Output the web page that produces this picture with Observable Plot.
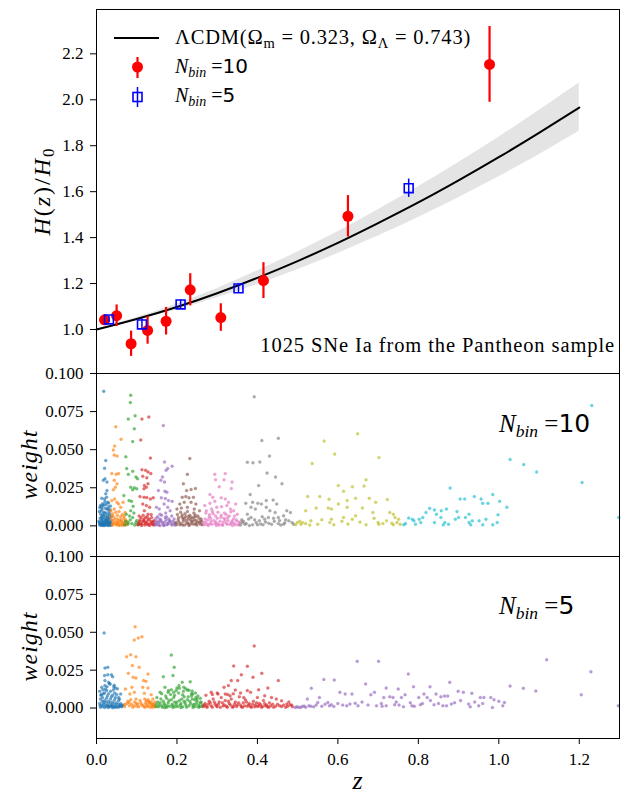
<!DOCTYPE html>
<html><head><meta charset="utf-8">
<script src="https://cdn.jsdelivr.net/npm/d3@7"></script>
<script src="https://cdn.jsdelivr.net/npm/@observablehq/plot@0.6"></script>
<style>
body{margin:0;background:#fff;}
#wrap{position:relative;width:628px;height:795px;overflow:hidden;background:#fff;}
#wrap svg.plot{display:block;overflow:visible;}
#ov{position:absolute;left:0;top:0;pointer-events:none;overflow:visible;}
</style></head><body><div id="wrap"></div>
<script>
// ---------- data ----------
const zTicks = [0, 0.2, 0.4, 0.6, 0.8, 1.0, 1.2];
const hTicks = [1.0, 1.2, 1.4, 1.6, 1.8, 2.0, 2.2];
const wTicks = [0, 0.025, 0.05, 0.075, 0.1];

// LCDM curve and its grey band
const curveZ  = [0, 0.1, 0.2, 0.3, 0.4, 0.5, 0.6, 0.7, 0.8, 0.9, 1.0, 1.1, 1.2];
const curveH  = [1.000, 1.046, 1.098, 1.158, 1.225, 1.298, 1.377, 1.463, 1.553, 1.649, 1.750, 1.856, 1.966];
const bandHi  = [1.000, 1.052, 1.111, 1.179, 1.255, 1.337, 1.425, 1.521, 1.621, 1.727, 1.837, 1.953, 2.073];
const bandLo  = [1.000, 1.040, 1.086, 1.138, 1.196, 1.260, 1.331, 1.407, 1.488, 1.574, 1.665, 1.761, 1.863];

// H(z)/H0 reconstructions
const bin10Z   = [0.020, 0.050, 0.086, 0.127, 0.173, 0.233, 0.309, 0.415, 0.625, 0.977];
const bin10H   = [1.042, 1.060, 0.938, 0.996, 1.036, 1.173, 1.052, 1.213, 1.493, 2.154];
const bin10Err = [0.020, 0.047, 0.055, 0.060, 0.060, 0.070, 0.060, 0.078, 0.090, 0.165];
const bin5Z    = [0.031, 0.113, 0.209, 0.353, 0.776];
const bin5H    = [1.044, 1.022, 1.109, 1.179, 1.615];
const bin5Err  = [0.015, 0.025, 0.020, 0.020, 0.040];

const binColors = ["#1f77b4","#ff7f0e","#2ca02c","#d62728","#9467bd","#8c564b","#e377c2","#7f7f7f","#bcbd22","#17becf"];

// weights per SN, one string per bin: "z*1000,weight*10000"
const weights10 = [
"18,883 23,429 20,378 21,310 17,299 26,288 26,232 23,210 13,181 20,177 25,188 28,155 8,120 12,100 16,130 22,115 30,125 34,105 10,80 14,70 19,90 24,85 28,75 33,80 37,60 9,50 13,40 17,55 21,45 26,50 31,40 36,35 7,20 11,15 15,25 18,10 23,20 27,12 32,18 35,8 8,5 12,3 16,8 20,2 25,5 29,3 33,4 38,10 6,30 22,65 27,30 14,110 19,140 31,95 10,135 24,140 29,110 7,95 35,130 12,60 18,70 27,60 32,55 9,25 14,35 20,30 25,35 30,22 35,20 11,8 17,2 22,8 28,18 34,12 15,145 21,160 30,150 13,12 19,22 24,28 29,8 34,25 9,12 16,18 21,12 26,22 31,12 36,5 14,50 23,38 28,45 33,65 18,85 26,110 12,125",
"48,650 61,569 45,524 42,498 44,465 51,458 38,343 49,338 55,343 44,299 51,277 42,237 47,254 38,166 45,177 51,155 55,144 60,122 66,155 71,88 36,100 40,80 44,110 48,90 52,70 56,95 60,60 64,75 68,50 72,40 38,40 42,20 46,50 50,30 54,15 58,35 62,20 66,10 70,25 74,8 76,30 40,5 48,8 56,3 64,4 36,60 39,12 43,35 47,18 51,8 55,25 59,5 63,30 67,15 71,5 75,18 41,65 53,45 61,40 69,65",
"85,858 84,810 96,723 79,701 94,637 90,553 73,453 75,376 90,358 79,338 98,321 102,310 85,254 94,250 100,243 90,237 68,199 81,166 87,161 91,128 85,100 74,77 79,22 98,22 103,7 90,55 72,30 78,10 84,40 88,15 95,5 100,35 105,12 70,8 82,65 93,85",
"130,715 113,701 110,564 134,445 113,369 122,365 128,354 115,325 125,316 135,343 119,265 124,254 118,243 128,277 108,192 118,188 125,186 134,177 141,184 115,144 124,133 132,122 119,100 128,77 122,55 111,55 137,55 105,20 110,10 115,30 120,5 125,25 130,12 135,30 140,8 108,40 118,45 128,40 138,20 143,35 112,3 122,15 132,3 142,12 106,65 116,70 126,60 136,75 103,8 107,28 113,15 117,35 121,25 127,8 131,45 136,15 141,28 144,5",
"166,659 169,420 188,392 177,376 173,365 164,321 160,299 169,288 154,232 170,228 175,221 161,184 171,179 179,166 188,161 168,144 149,122 156,111 177,122 183,100 158,77 171,55 182,33 154,22 146,10 150,30 155,5 160,40 165,15 170,25 175,8 180,45 185,12 190,30 195,5 152,60 162,70 172,85 187,65 158,2 168,3 178,20 192,15 148,50 147,20 151,8 157,28 163,25 167,5 173,40 177,12 183,28 188,5 193,45 196,20 157,45 174,60",
"232,442 226,338 216,277 235,239 246,246 224,232 213,188 222,192 230,184 241,188 218,155 235,155 247,144 207,144 200,111 211,117 226,122 243,111 256,100 198,20 203,40 207,8 212,60 216,30 220,80 224,15 228,45 232,70 236,25 240,55 244,10 248,35 252,65 256,20 260,45 263,8 201,75 209,90 218,50 226,95 234,40 242,85 250,5 258,30 214,5 230,3 246,60 238,12 222,62 199,8 205,25 210,15 215,45 219,5 223,35 227,20 231,10 235,55 239,30 243,40 247,15 251,25 255,50 259,10 262,30 204,55 213,72 229,62 245,72",
"294,338 296,303 320,343 317,303 337,288 305,257 335,246 282,206 289,188 310,184 320,177 294,161 282,148 328,155 346,144 269,133 273,100 286,111 299,122 311,126 324,133 333,111 341,100 350,77 266,20 270,45 275,10 280,60 285,30 290,80 295,15 300,50 305,5 310,70 315,25 320,40 325,10 330,65 335,20 340,45 345,8 350,30 355,15 272,85 288,95 302,90 318,85 334,92 278,3 298,3 314,5 338,3 284,50 326,55 268,8 272,25 277,40 282,15 287,10 292,35 297,25 302,12 307,30 312,8 317,50 322,20 327,35 332,10 337,30 342,18 347,40 352,5 357,25 281,75 296,65 309,55 322,75 343,65",
"392,847 411,560 452,575 430,458 375,418 389,414 406,420 424,347 445,321 461,277 403,265 382,206 371,148 388,155 401,148 410,144 422,166 439,170 448,144 384,122 395,111 422,122 431,100 427,55 418,44 444,88 452,55 465,66 473,100 482,88 478,33 465,11 397,22 405,33 384,55 363,22 369,11 375,77 388,7 414,7 452,15 486,22 358,5 365,30 372,15 380,3 393,40 400,8 408,12 420,25 435,10 442,30 458,5 470,40 490,10 361,40 378,45 412,60 428,18 440,50 455,35 468,20",
"649,604 566,557 592,471 702,449 536,409 670,303 601,265 614,228 636,257 665,261 525,192 555,192 578,175 623,166 644,181 678,181 723,173 520,100 546,117 576,117 584,111 601,144 623,122 661,117 694,155 687,88 729,88 738,77 499,22 508,11 512,22 520,15 533,33 550,11 580,22 584,44 614,55 636,44 644,66 700,22 702,11 721,33 734,18 747,22 751,44 738,7 742,55 495,8 505,30 530,5 560,40 590,8 610,30 625,12 655,25 670,8 690,50 712,15 755,10",
"1231,790 1028,436 1062,403 1094,354 1207,285 1298,55 879,248 904,177 915,177 939,192 960,148 985,206 1002,161 1020,122 956,177 973,148 828,115 840,104 857,100 870,111 845,77 856,55 896,95 900,55 926,77 917,55 776,51 785,44 789,33 802,44 811,55 819,88 806,22 793,11 764,7 768,15 840,22 866,22 862,7 926,22 930,7 934,33 960,7 985,7 996,22 998,73 968,44 951,33 892,44 875,11"
];
const weights5 = [
"19,496 21,264 28,269 20,214 28,220 37,220 21,181 30,170 40,207 13,137 21,148 34,159 43,141 47,132 55,70 60,92 8,110 12,90 16,120 20,100 25,115 30,95 35,110 40,85 45,100 50,90 10,60 15,70 20,50 25,65 30,45 35,60 40,40 45,55 50,35 55,50 60,30 8,30 13,20 18,35 23,15 28,25 33,10 38,22 43,8 48,18 53,5 58,12 63,8 10,5 20,3 30,4 40,2 66,20 26,140 32,160 44,150 52,128 9,15 14,45 19,25 24,40 29,15 34,35 39,12 44,30 49,8 54,25 59,20 64,15 11,85 17,95 27,80 37,75 47,70 57,60 16,10 26,8 36,15 46,5 56,8 22,125 42,120",
"96,537 94,449 104,463 113,471 75,339 85,352 98,339 89,280 106,269 79,229 128,225 91,203 98,198 117,181 123,176 72,126 88,137 115,137 128,132 83,93 94,104 119,97 136,88 98,59 81,37 102,26 124,48 132,37 141,26 70,10 76,30 82,15 90,5 95,40 100,12 108,50 112,20 118,8 122,35 126,15 130,45 134,5 138,25 142,12 145,40 120,60 140,60 85,55 71,25 78,45 87,25 93,15 99,30 105,8 110,35 116,20 121,5 125,25 129,10 133,30 137,15 140,5 143,22 146,8 128,55 136,40",
"186,350 193,269 190,214 166,207 233,174 213,170 205,148 200,132 217,137 170,137 179,115 158,104 192,104 226,119 239,93 247,70 148,10 152,40 156,20 160,60 164,5 168,30 172,80 176,15 180,50 184,90 188,25 192,70 196,8 200,40 204,100 208,20 212,60 216,110 220,35 224,5 228,75 232,45 236,95 240,15 244,55 248,30 252,80 256,10 260,40 263,20 150,70 162,95 178,105 198,115 214,88 230,118 246,100 258,65 170,3 190,3 210,3 240,3 254,5 186,120 206,130 222,128 238,112 149,25 154,8 158,35 162,15 166,45 170,20 174,5 178,35 182,12 186,55 190,15 194,40 198,25 202,10 206,50 210,30 214,8 218,45 222,20 226,55 230,15 234,30 238,60 242,25 246,10 250,45 254,20 258,35 262,10 174,65 194,85 218,75 236,80 250,60",
"392,410 341,278 375,275 360,220 389,203 411,229 335,181 351,181 452,181 317,137 328,148 345,119 375,115 403,121 426,132 285,104 302,93 320,93 332,81 366,70 383,104 400,70 418,81 435,70 447,59 460,48 473,26 481,22 266,10 270,30 275,5 280,45 285,15 290,60 295,25 300,8 305,40 310,70 315,15 320,50 325,5 330,30 335,60 340,10 345,40 350,20 355,75 360,8 365,35 370,55 375,12 380,30 385,5 390,45 395,20 400,10 405,30 410,5 415,50 420,15 425,8 430,35 440,5 450,25 460,10 470,5 478,40 487,8 272,85 288,90 300,100 326,90 340,95 358,100 268,20 273,12 278,25 283,35 288,5 293,40 298,15 303,25 308,5 313,35 318,20 323,12 328,45 333,20 338,5 343,25 348,10 353,35 358,20 363,5 368,15 373,40 378,20 383,10 388,25 393,8 398,35 403,15 408,22 413,10 418,30 423,20 428,5 433,15 438,25 445,12 455,15 465,20 475,12 485,20",
"648,308 701,308 565,189 591,185 775,225 534,130 1119,319 1229,240 1028,145 1061,130 1092,112 1205,88 1297,15 669,159 720,132 750,126 788,141 829,141 878,170 605,104 618,93 635,93 682,88 691,104 714,70 729,75 737,70 758,70 767,88 801,70 814,93 822,70 844,93 856,75 865,79 873,79 899,110 912,104 933,97 954,70 963,70 980,70 988,55 1014,37 524,59 550,37 554,70 575,37 579,15 584,22 622,15 630,26 643,31 696,15 720,15 741,22 763,9 784,15 805,22 839,22 861,15 882,26 925,26 929,9 950,15 984,4 498,9 507,4 516,13 533,11 494,4 502,6 511,10 520,5 528,15 540,8 546,20 560,12 568,25 590,10 600,30 612,20 650,15 660,40 675,20 708,30 710,12 745,40 752,20 780,35 790,12 810,30 830,50 850,30 870,15 890,35 905,50 940,40 960,30 1000,45 1010,15"
];

// ---------- build ----------
const parsePts = (s, bin) => s.trim().split(/\s+/).map(t => {
  const [a, b] = t.split(",").map(Number);
  return {z: a / 1000, w: b / 10000, bin};
});
const pts10 = weights10.flatMap((s, i) => parsePts(s, i));
const pts5 = weights5.flatMap((s, i) => parsePts(s, i));
const curve = curveZ.map((z, i) => ({z, h: curveH[i], lo: bandLo[i], hi: bandHi[i]}));
const p10 = bin10Z.map((z, i) => ({z, h: bin10H[i], e: bin10Err[i]}));
const p5 = bin5Z.map((z, i) => ({z, h: bin5H[i], e: bin5Err[i]}));

const xDomain = [0, 1.3];
const common = {
  width: 628, marginLeft: 96, marginRight: 9,
  style: {fontFamily: "'Liberation Serif', serif", fontSize: "17px", color: "black", background: "white", overflow: "visible"}
};
const yAxisOpts = {tickSize: 6, tickPadding: 7, label: null};

const topPlot = Plot.plot({
  ...common, height: 373, marginTop: 9, marginBottom: 0,
  x: {domain: xDomain, axis: null},
  y: {domain: [0.8085, 2.393], ticks: hTicks, tickFormat: d3.format(".1f"), ...yAxisOpts},
  marks: [
    Plot.areaY(curve, {x: "z", y1: "lo", y2: "hi", fill: "#e4e4e4", curve: "natural"}),
    Plot.line(curve, {x: "z", y: "h", stroke: "black", strokeWidth: 2, curve: "natural"}),
    Plot.ruleX(p10, {x: "z", y1: d => d.h - d.e, y2: d => d.h + d.e, stroke: "red", strokeWidth: 2.2}),
    Plot.dot(p10, {x: "z", y: "h", r: 5.5, fill: "red"}),
    Plot.ruleX(p5, {x: "z", y1: d => d.h - d.e, y2: d => d.h + d.e, stroke: "blue", strokeWidth: 1.5}),
    Plot.dot(p5, {x: "z", y: "h", symbol: "square", r: 5, stroke: "blue", strokeWidth: 1.6, fill: "none"}),
    Plot.frame({stroke: "black"})
  ]
});

function weightPlot(pts, h, mb, showX) {
  return Plot.plot({
    ...common, height: h, marginTop: 0, marginBottom: mb,
    x: showX ? {domain: xDomain, ticks: zTicks, tickFormat: d3.format(".1f"), tickSize: 6, tickPadding: 8, label: null}
             : {domain: xDomain, axis: null},
    y: {domain: [-0.0201, 0.1], ticks: wTicks, tickFormat: d3.format(".3f"), ...yAxisOpts},
    color: {type: "identity"},
    marks: [
      Plot.dot(pts, {x: "z", y: "w", r: 1.5, fill: d => binColors[d.bin], fillOpacity: 0.65,
                     stroke: d => binColors[d.bin], strokeOpacity: 0.3, strokeWidth: 0.6}),
      Plot.frame({stroke: "black"})
    ]
  });
}
const midPlot = weightPlot(pts10, 183, 0, false);
const botPlot = weightPlot(pts5, 239, 57, true);

const wrap = document.getElementById("wrap");
wrap.append(topPlot, midPlot, botPlot);

// ---------- text / legend overlay ----------
const nbin = (x, y, fs, n) =>
  `<text x="${x}" y="${y}" font-size="${fs}"><tspan font-style="italic">N</tspan><tspan font-style="italic" font-size="${fs*0.7}" dy="${fs*0.2}">bin</tspan><tspan dy="${-fs*0.2}"> =</tspan><tspan font-family="'DejaVu Sans', sans-serif">${n}</tspan></text>`;
const ov = `
<svg id="ov" width="628" height="795" xmlns="http://www.w3.org/2000/svg" font-family="'Liberation Serif', serif" fill="black">
  <line x1="114" y1="38" x2="159" y2="38" stroke="black" stroke-width="2"/>
  <text x="175" y="44" font-size="20.5" letter-spacing="0.8">ΛCDM(Ω<tspan font-size="14.5" dy="4">m</tspan><tspan dy="-4"> = 0.323, Ω</tspan><tspan font-size="14.5" dy="4">Λ</tspan><tspan dy="-4"> = 0.743)</tspan></text>
  <line x1="137.5" y1="57" x2="137.5" y2="78" stroke="red" stroke-width="2.2"/>
  <circle cx="137.5" cy="67" r="5.5" fill="red"/>
  ${nbin(175, 73, 20, "10")}
  <line x1="137.5" y1="87" x2="137.5" y2="107" stroke="blue" stroke-width="1.5"/>
  <rect x="133" y="92.5" width="9" height="9" fill="none" stroke="blue" stroke-width="1.6"/>
  ${nbin(175, 102, 20, "5")}
  <text x="615" y="352" font-size="20.5" text-anchor="end" letter-spacing="0.9">1025 SNe Ia from the Pantheon sample</text>
  ${nbin(499, 432, 25, "10")}
  ${nbin(499, 614, 25, "5")}
  <text transform="translate(50,191) rotate(-90)" text-anchor="middle" font-size="24" letter-spacing="2"><tspan font-style="italic">H</tspan>(<tspan font-style="italic">z</tspan>)/<tspan font-style="italic">H</tspan><tspan font-size="17" dy="4">0</tspan></text>
  <text transform="translate(37,464.5) rotate(-90)" text-anchor="middle" font-size="24" font-style="italic" letter-spacing="1">weight</text>
  <text transform="translate(37,646.5) rotate(-90)" text-anchor="middle" font-size="24" font-style="italic" letter-spacing="1">weight</text>
  <text x="357.5" y="789" text-anchor="middle" font-size="26" font-style="italic">z</text>
</svg>`;
wrap.insertAdjacentHTML("beforeend", ov);
</script></body></html>
